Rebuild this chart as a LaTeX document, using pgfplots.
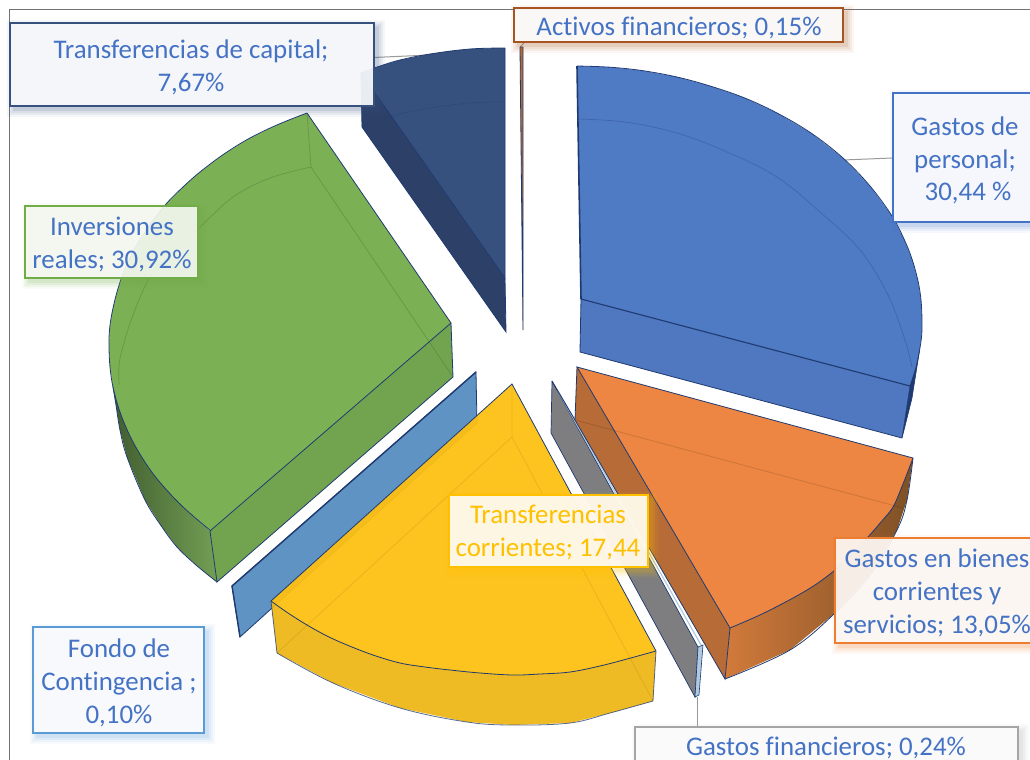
\documentclass[border=0pt]{standalone}
\usepackage{pgfplots}
\pgfplotsset{compat=1.18}
\usepackage{fontspec}
\setmainfont[Ligatures=NoCommon]{Carlito}
\definecolor{edge}{HTML}{1F3A70}
\definecolor{navyT}{HTML}{37517F}
\definecolor{navyS}{HTML}{2D4168}
\definecolor{blueT}{HTML}{4F7AC4}
\definecolor{blueS}{HTML}{4F78C0}
\definecolor{greenT}{HTML}{7BB054}
\definecolor{greenS}{HTML}{72A44F}
\definecolor{greenD}{HTML}{3F5B2E}
\definecolor{greenL}{HTML}{739F55}
\definecolor{steel}{HTML}{5F93C4}
\definecolor{grayS}{HTML}{7E7E80}
\definecolor{orangeT}{HTML}{EC8642}
\definecolor{orangeS}{HTML}{B76B36}
\definecolor{orangeA}{HTML}{D27A3B}
\definecolor{orangeB}{HTML}{CF783A}
\definecolor{orangeC}{HTML}{7D5026}
\definecolor{yellowT}{HTML}{FDC013}
\definecolor{yellowS}{HTML}{EDB718}
\definecolor{txt}{HTML}{4472C4}
\definecolor{bBrown}{HTML}{A85420}
\definecolor{bGreen}{HTML}{70AD47}
\definecolor{bSky}{HTML}{5B9BD5}
\definecolor{bYel}{HTML}{FFC000}
\definecolor{bOra}{HTML}{ED7D31}
\definecolor{bGra}{HTML}{A5A5A5}
\definecolor{fNavy}{HTML}{F8F9FC}
\definecolor{fBrown}{HTML}{FBFAF9}
\definecolor{fBlue}{HTML}{F8FAFD}
\definecolor{fGreen}{HTML}{F6F9F4}
\definecolor{fSky}{HTML}{F9FAFD}
\definecolor{fYel}{HTML}{FEF8EA}
\definecolor{fOra}{HTML}{FCF8F5}
\definecolor{fGra}{HTML}{FBFBFB}
\newcommand{\shad}[7]{\fill[#5,opacity=#7] (axis cs:{#1+4-#6},{#2+4-#6}) rectangle (axis cs:{#3+4+#6},{#4+4+#6});}
\newcommand{\lbox}[7]{%
  \shad{#1}{#2}{#3}{#4}{#5}{7}{0.05}%
  \shad{#1}{#2}{#3}{#4}{#5}{5}{0.07}%
  \shad{#1}{#2}{#3}{#4}{#5}{3}{0.09}%
  \shad{#1}{#2}{#3}{#4}{#5}{1}{0.12}%
  \fill[#6,fill opacity=#7] (axis cs:#1,#2) rectangle (axis cs:#3,#4);
  \draw[#5,line width=1.9bp] (axis cs:#1,#2) rectangle (axis cs:#3,#4);}
\newcommand{\ltext}[3][txt]{\node[text=#1,font=\fontsize{27}{29}\selectfont,anchor=base,inner sep=0pt] at (axis cs:#2) {#3};}
\pgfplotsset{
  face/.style={no marks,draw=none},
  line/.style={no marks,draw=edge,line width=.8bp},
  curve/.style={no marks,smooth,tension=.6,draw=edge,line width=.8bp},
  faint/.style={no marks,smooth,tension=.6,line width=.7bp}}
\begin{document}
\begin{tikzpicture}
\path[use as bounding box] (0,0) rectangle (1030bp,760bp);
\begin{axis}[at={(0,0)},anchor=south west,scale only axis,width=1030bp,height=760bp,
  xmin=0,xmax=1030,ymin=0,ymax=760,y dir=reverse,hide axis,clip=true]
% frame
\addplot[no marks,draw=black!55,line width=1.3bp] coordinates {(9.3,760)(9.3,9.7)(1030,9.7)};
% leader lines
\addplot[no marks,draw=black!40,line width=1bp] coordinates {(373,57.5)(430,55)};
\addplot[no marks,draw=black!40,line width=1bp] coordinates {(843,160)(892,158)};
\addplot[no marks,draw=black!40,line width=1bp] coordinates {(697,697)(697,727)};
\addplot[no marks,draw=black!40,line width=1bp] coordinates {(520,47)(525,42)};
% Transferencias de capital
\addplot[face,fill=navyS] coordinates {(361,73)(505,278)(506,332)(362,127)(361,73)};
\addplot[line] coordinates {(361,73)(362,127)(506,332)(505,278)};
\addplot[face,fill=navyT] coordinates {(505,278)(361,73)(380,66)(400,60)(415,57)(430,54)(450,51)(470,49)(488,48.3)(505,48)(505,278)};
\addplot[line] coordinates {(505,48)(505,278)(361,73)};
\addplot[curve] coordinates {(361,73)(380,66)(400,60)(430,54)(470,49)(505,48)};
\addplot[faint,draw=edge,opacity=.35] coordinates {(362,127)(392,116)(430,108)(470,103)(504,102)};
% Activos financieros
\addplot[no marks,fill=orangeS,draw=edge,line width=.8bp] coordinates {(520,47)(523,47)(523,330)(520,47)};
% Gastos de personal
\addplot[face,fill=blueS] coordinates {(581,299)(910,386)(902,438)(580,352)(581,299)};
\addplot[line] coordinates {(581,299)(580,352)(902,438)};
\addplot[no marks,fill=edge,draw=edge,line width=.6bp] coordinates {(919.6,350)(910,386)(902,438)(912,398)(919.6,350)};
\addplot[face,fill=blueT] coordinates {(581,299)(577,66)(610,67.2)(643,70.7)(677,77)(710,86)(744,97.7)(777,113)(811,133)(843,158)(870,186)(892,216)(904,239)(912,259)(918,281)(921,300)(922,320)(921.7,335)(919.6,350)(915.8,368)(910,386)(581,299)};
\addplot[curve] coordinates {(577,66)(610,67.2)(643,70.7)(677,77)(710,86)(744,97.7)(777,113)(811,133)(843,158)(870,186)(892,216)(904,239)(912,259)(918,281)(921,300)(922,320)(921.7,335)(919.6,350)(915.8,368)(910,386)};
\addplot[line,line width=1.1bp] coordinates {(910,386)(581,299)};
\addplot[no marks,draw=edge,line width=1.6bp] coordinates {(577,66)(581,299)};
\addplot[faint,draw=edge,opacity=.3] coordinates {(577,119)(625,122)(677,133)(727,152)(777,177)(820,212)(860,250)(888,295)(905,340)(912,367)};
% Inversiones reales
\addplot[face,left color=greenD,right color=greenL] coordinates {(109,347)(113,387)(116,405)(120,430)(127,457)(145,500)(162,527)(177,547)(196,565)(217,582)(210,531)(182,506)(158,480)(143,459)(130.5,437)(120,412)(113,387)(109,347)};
\addplot[curve] coordinates {(113,387)(116,405)(120,430)(127,457)(145,500)(162,527)(177,547)(196,565)(217,582)};
\addplot[face,fill=greenS] coordinates {(451,323)(210,531)(217,582)(453,377)(451,323)};
\addplot[line] coordinates {(451,323)(453,377)(217,582)(210,531)};
\addplot[face,fill=greenT] coordinates {(451,323)(307,113)(278,124.5)(250,138)(224,154)(200,172)(183,187)(167,203)(149,226)(133,252)(124,271)(117,292)(112,313)(109.5,330)(109,347)(110,367)(113,387)(120,412)(130.5,437)(143,459)(158,480)(182,506)(211,531)(451,323)};
\addplot[line] coordinates {(307,113)(451,323)(210,531)};
\addplot[curve] coordinates {(307,113)(278,124.5)(250,138)(224,154)(200,172)(183,187)(167,203)(149,226)(133,252)(124,271)(117,292)(112,313)(109.5,330)(109,347)(110,367)(113,387)(120,412)(130.5,437)(143,459)(158,480)(182,506)(211,531)};
\addplot[no marks,draw=greenD,opacity=.3,line width=.7bp] coordinates {(307,113)(311,167)(453,377)};
\addplot[faint,draw=greenD,opacity=.3] coordinates {(311,167)(270,178)(233,197)(200,227)(172,252)(150,277)(133,315)(122,350)(119,367)(119,385)};
% Fondo de Contingencia
\addplot[no marks,fill=steel,draw=edge,line width=.8bp] coordinates {(232,586)(476,372)(477,423)(240,637)(232,586)};
\addplot[no marks,draw=edge,line width=1.4bp] coordinates {(240,637)(232,586)(476,372)};
% Gastos financieros
\addplot[no marks,fill=grayS,draw=edge,line width=.7bp] coordinates {(552,381)(698,647)(695,697)(551,433)(552,381)};
\addplot[no marks,fill=steel!50!white,draw=edge,line width=.6bp] coordinates {(698,647)(703,645)(699,695)(695,697)(698,647)};
\addplot[no marks,draw=steel!50!white,line width=1.2bp] coordinates {(558,391)(701,645)};
\addplot[no marks,draw=edge,line width=.9bp] coordinates {(552,381)(575,420)};
% Gastos en bienes corrientes y servicios
\addplot[face,left color=orangeA,middle color=orangeB,right color=orangeC] coordinates {(730,628)(793,598)(835,570)(868,537)(893,507)(913,458)(907,500)(897,530)(870,575)(835,613)(790,650)(725,679)(730,628)};
\addplot[curve] coordinates {(913,458)(907,500)(897,530)(870,575)(835,613)(790,650)(725,679)};
\addplot[face,fill=orangeS] coordinates {(577,367)(730,628)(725,679)(575,420)(577,367)};
\addplot[line] coordinates {(577,367)(575,420)(725,679)(730,628)};
\addplot[face,fill=orangeT] coordinates {(577,367)(913,458)(903,484)(893,507)(881,522)(868,537)(852,554)(835,570)(815,585)(793,598)(762,614)(730,628)(577,367)};
\addplot[line] coordinates {(730,628)(577,367)(913,458)};
\addplot[curve] coordinates {(913,458)(903,484)(893,507)(881,522)(868,537)(852,554)(835,570)(815,585)(793,598)(762,614)(730,628)};
\addplot[no marks,draw=black,opacity=.13,line width=.8bp] coordinates {(575,420)(903,508)};
% Transferencias corrientes
\addplot[face,fill=yellowS,fill opacity=.95] coordinates {(271,601)(307,625)(347,645)(400,663)(450,670)(513,675)(570,672)(627,659)(656,651)(653,701)(610,713)(570,723)(513,725)(467,722)(400,708)(333,683)(277,653)(271,601)};
\addplot[curve,draw opacity=.75] coordinates {(277,653)(333,683)(400,708)(467,722)(513,725)(570,723)(610,713)(653,701)};
\addplot[line,draw opacity=.75] coordinates {(271,601)(277,653)};
\addplot[line,draw opacity=.75] coordinates {(656,651)(653,701)};
\addplot[face,fill=yellowT,fill opacity=.95] coordinates {(512,384)(656,651)(627,659)(600,666)(570,672)(540,674)(513,675)(480,673)(450,670)(425,667)(400,663)(373,655)(347,645)(327,636)(307,625)(288,613)(271,601)(512,384)};
\addplot[line] coordinates {(271,601)(512,384)(656,651)};
\addplot[curve] coordinates {(656,651)(627,659)(600,666)(570,672)(540,674)(513,675)(480,673)(450,670)(425,667)(400,663)(373,655)(347,645)(327,636)(307,625)(288,613)(271,601)};
\addplot[no marks,draw=black,opacity=.08,line width=.8bp] coordinates {(512,384)(512,437)(277,653)};
\addplot[no marks,draw=black,opacity=.08,line width=.8bp] coordinates {(512,437)(653,701)};
% label boxes
\lbox{10}{23}{374}{106}{navyT}{fNavy}{.93}
\ltext{191,58}{Transferencias de capital;}
\ltext{191,91}{7,67\%}
\lbox{514}{8}{843}{42}{bBrown}{fBrown}{.97}
\ltext{679,35}{Activos financieros; 0,15\%}
\lbox{893}{93}{1036}{222}{txt}{fBlue}{.95}
\ltext{965,135}{Gastos de}
\ltext{965,168}{personal;}
\ltext{968,200}{30,44 \%}
\lbox{25}{206}{198}{278}{bGreen}{fGreen}{.9}
\ltext{112,235}{Inversiones}
\ltext{112,268}{reales; 30,92\%}
\lbox{33}{627}{204}{733}{bSky}{fSky}{.97}
\ltext{119,657}{Fondo de}
\ltext{119,690}{Contingencia ;}
\ltext{119,723}{0,10\%}
\lbox{449}{495}{648}{567}{bYel}{fYel}{.97}
\ltext[bYel]{548,523}{Transferencias}
\ltext[bYel]{548,556}{corrientes; 17,44}
\lbox{835}{538}{1036}{643}{bOra}{fOra}{.93}
\ltext{937,567}{Gastos en bienes}
\ltext{937,600}{corrientes y}
\ltext{937,633}{servicios; 13,05\%}
\lbox{635}{727}{1018}{770}{bGra}{fGra}{.97}
\ltext{826,755}{Gastos financieros; 0,24\%}
\end{axis}
\end{tikzpicture}
\end{document}
